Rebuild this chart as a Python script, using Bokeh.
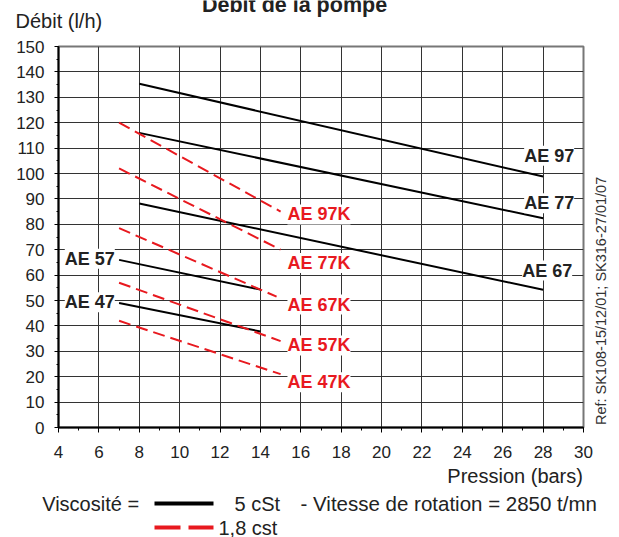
from bokeh.plotting import figure
from bokeh.models import Range1d, Label, SingleIntervalTicker, ColumnDataSource
from bokeh.layouts import column, row
from bokeh.embed import file_html
from bokeh.resources import INLINE
import math

# ---- data ----
x_ticks_interval = 2
y_ticks_interval = 10

solid_names = ["AE 97", "AE 77", "AE 67", "AE 57", "AE 47"]
solid_x0 = [8, 8, 8, 7, 7]
solid_x1 = [28, 28, 28, 14, 14]
solid_y0 = [135.3, 116.0, 88.2, 66.0, 49.0]
solid_y1 = [98.8, 82.4, 54.2, 54.3, 37.8]
solid_lab_x = [28.3, 28.3, 28.2, 5.55, 5.55]
solid_lab_y = [107.0, 88.3, 61.8, 66.4, 49.3]

dash_names = ["AE 97K", "AE 77K", "AE 67K", "AE 57K", "AE 47K"]
dash_x0 = [7, 7, 7, 7, 7]
dash_x1 = [15, 15, 14.8, 15, 15]
dash_y0 = [120.0, 102.0, 78.5, 57.0, 42.0]
dash_y1 = [85.0, 70.0, 51.5, 34.0, 21.0]
dash_lab_x = [16.9, 16.9, 16.9, 16.9, 16.9]
dash_lab_y = [83.9, 64.8, 48.4, 32.3, 17.8]

title_text = "Débit de la pompe"
ylabel_text = "Débit (l/h)"
xlabel_text = "Pression  (bars)"
legend_texts = ["Viscosité =", "5 cSt", "- Vitesse de rotation = 2850 t/mn", "1,8  cst"]
ref_text = "Ref: SK108-15/12/01; SK316-27/01/07"

FONT = "Liberation Sans"
RED = "#e8191f"
DARK = "#222222"


def blank(w, h):
    f = figure(width=w, height=h, output_backend="svg", toolbar_location=None,
               title=None, x_axis_type=None, y_axis_type=None, min_border=0,
               x_range=Range1d(0, w), y_range=Range1d(0, h))
    f.outline_line_color = None
    f.background_fill_color = "white"
    f.border_fill_color = "white"
    return f


# ---- top strip: title + y label ----
top = blank(619, 36)
top.add_layout(Label(x=294, y=31.5, text=title_text, text_font=FONT,
                     text_font_size="21.5px", text_font_style="bold", text_color=DARK,
                     text_align="center", text_baseline="middle"))
top.add_layout(Label(x=15, y=16, text=ylabel_text, text_font=FONT,
                     text_font_size="20px", text_color=DARK, text_align="left",
                     text_baseline="middle"))

# ---- main chart ----
p = figure(width=593, height=429, output_backend="svg", toolbar_location=None,
           title=None, x_range=Range1d(4, 30), y_range=Range1d(0, 150),
           min_border_left=58, min_border_right=10, min_border_top=10,
           min_border_bottom=38, background_fill_color="white",
           border_fill_color="white")
p.outline_line_color = "#777777"
p.outline_line_width = 2

p.xaxis.ticker = SingleIntervalTicker(interval=x_ticks_interval, num_minor_ticks=2)
p.yaxis.ticker = SingleIntervalTicker(interval=y_ticks_interval, num_minor_ticks=2)
for ax in (p.xaxis[0], p.yaxis[0]):
    ax.axis_line_color = "black"
    ax.axis_line_width = 2
    ax.major_tick_line_color = "black"
    ax.minor_tick_line_color = "black"
    ax.major_tick_in = 0
    ax.minor_tick_in = 0
    ax.major_label_text_font = FONT
    ax.major_label_text_font_size = "17px"
    ax.major_label_text_color = DARK
p.xaxis.major_tick_out = 5
p.xaxis.minor_tick_out = 3
p.xaxis.major_label_standoff = 13
p.yaxis.major_tick_out = 4
p.yaxis.minor_tick_out = 2
p.yaxis.major_label_standoff = 10

p.xgrid.grid_line_color = "#333333"
p.ygrid.grid_line_color = "#333333"

src_s = ColumnDataSource(dict(x0=solid_x0, x1=solid_x1, y0=solid_y0, y1=solid_y1))
src_d = ColumnDataSource(dict(x0=dash_x0, x1=dash_x1, y0=dash_y0, y1=dash_y1))
p.segment("x0", "y0", "x1", "y1", source=src_s, line_color="black", line_width=2)
p.segment("x0", "y0", "x1", "y1", source=src_d, line_color=RED, line_width=2,
          line_dash="12 6")

for n, x, y in zip(solid_names, solid_lab_x, solid_lab_y):
    p.add_layout(Label(x=x, y=y, text=n, text_font=FONT, text_font_size="18px",
                       text_font_style="bold", text_color=DARK, text_align="center",
                       text_baseline="middle", background_fill_color="white"))
for n, x, y in zip(dash_names, dash_lab_x, dash_lab_y):
    p.add_layout(Label(x=x, y=y, text=n, text_font=FONT, text_font_size="18px",
                       text_font_style="bold", text_color=RED, text_align="center",
                       text_baseline="middle", background_fill_color="white"))

# ---- right strip: reference text ----
side = blank(26, 429)
side.add_layout(Label(x=7, y=142.5, text=ref_text, text_font=FONT,
                      text_font_size="14.5px", text_color="#333333",
                      text_align="center", text_baseline="middle", angle=math.pi / 2))

# ---- bottom strip: x label + legend ----
bot = blank(619, 72)
bot.add_layout(Label(x=588, y=61.5, text=xlabel_text, text_font=FONT,
                     text_font_size="20px", text_color=DARK, text_align="right",
                     text_baseline="middle"))
leg_x = [41.7, 234, 300, 218]
leg_y = [34, 34, 34, 10]
leg_size = ["20px", "20px", "20.5px", "20px"]
for t, x, y, s in zip(legend_texts, leg_x, leg_y, leg_size):
    bot.add_layout(Label(x=x, y=y, text=t, text_font=FONT, text_font_size=s,
                         text_color=DARK, text_align="left", text_baseline="middle"))
bot.segment(x0=[154], y0=[34], x1=[213], y1=[34], line_color="black", line_width=4)
bot.segment(x0=[154], y0=[10], x1=[213], y1=[10], line_color=RED, line_width=4,
            line_dash="26 8")

layout = column(top, row(p, side, spacing=0), bot, spacing=0)
open("out.html", "w").write(file_html(layout, INLINE))
